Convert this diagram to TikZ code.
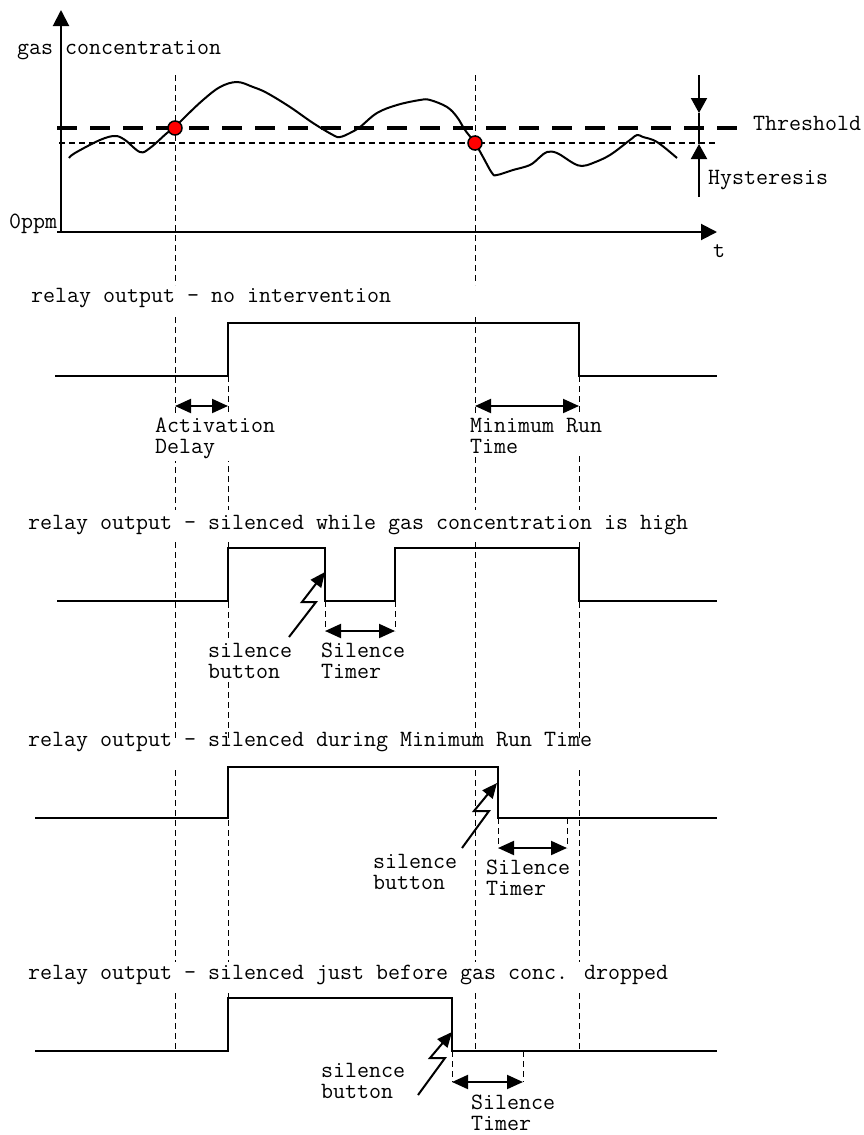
\documentclass[tikz,border=0pt]{standalone}
\usepackage{fontspec}
\usetikzlibrary{arrows.meta}

\begin{document}
\begin{tikzpicture}[x=1pt, y=-1pt,
    txt/.style={inner sep=0pt, font=\ttfamily\fontsize{23.3}{21}\selectfont},
    title/.style={txt, anchor=base west},
    note/.style={txt, anchor=base west, align=left, fill=white, inner ysep=3pt},
    signal/.style={line width=2pt},
    guide/.style={line width=1pt, dash pattern=on 6pt off 4pt},
    axis/.style={line width=2pt, -{Triangle[length=16pt, width=16pt]}},
    span/.style={line width=2pt, {Triangle[length=16pt, width=14pt]}-{Triangle[length=16pt, width=14pt]}},
    bolt/.style={line width=2pt, -{Triangle[length=15pt, width=13pt]}},
    hit/.style={circle, draw, line width=1.5pt, fill=red, minimum size=14pt, inner sep=0pt}
]
\useasboundingbox (0,0) rectangle (863,1135);

\foreach \x in {175,475} \draw[guide] (\x,75) -- (\x,285);
\foreach \x/\ya in {175/317,228/376,475/317,579/376} \draw[guide] (\x,\ya) -- (\x,510);
\foreach \x in {175,228,475,579} {
    \draw[guide] (\x,542) -- (\x,738);
    \draw[guide] (\x,770) -- (\x,962);
}
\foreach \x/\yb in {175/1051,228/998,475/1051,579/1051} \draw[guide] (\x,993) -- (\x,\yb);

\draw[axis] (61,232) -- (61,10);
\draw[axis] (57,232) -- (717,232);
\node[title] (ylab) at (17,54) {gas concentration};
\node[title] (zero) at (9,228) {0ppm};
\node[title] (tlab) at (713,257) {t};
\draw[line width=4pt, dash pattern=on 20pt off 13pt] (57,128) -- (748,128);
\node[title] (thr) at (753,130) {Threshold};
\draw[line width=1.5pt, dash pattern=on 6pt off 4pt] (59,143) -- (717,143);
\node[title] (hys) at (708,184) {Hysteresis};
\draw[line width=2pt, -{Triangle[length=15pt, width=16pt]}] (699,75) -- (699,113);
\draw[line width=2pt] (699,113) -- (699,144);
\draw[line width=2pt, -{Triangle[length=15pt, width=16pt]}] (699,197) -- (699,144);
\draw[line width=2pt] plot[smooth, tension=0.6] coordinates {
    (69,158) (75,153) (100,140) (115,136) (125,140) (140,152) (150,148)
    (167,133) (175,127) (187,115) (203,100) (220,87) (237,82) (253,87)
    (267,93) (290,107) (313,123) (333,135) (340,137) (350,133) (360,127)
    (377,113) (397,105) (420,100) (430,100) (447,107) (457,117) (465,130)
    (475,143) (483,157) (492,173) (497,175) (513,170) (530,165) (540,157)
    (547,152) (557,153) (573,163) (582,166) (593,163) (610,155) (630,140)
    (637,135) (643,137) (657,142) (677,158)};
\node[hit] (up) at (175,128) {};
\node[hit] (down) at (475,143) {};

\node[title] (title1) at (31,302) {relay output – no intervention};
\draw[signal] (55,376) -- (228,376) -- (228,323) -- (579,323) -- (579,376) -- (717,376);
\node[note] (delay) at (155,453) {Activation\\Delay};
\node[note] (minrun) at (470,453) {Minimum Run\\Time};
\draw[span] (175,406) -- (228,406);
\draw[span] (475,406) -- (579,406);

\node[title] (title2) at (28,529) {relay output – silenced while gas concentration is high};
\draw[signal] (57,601) -- (228,601) -- (228,548) -- (325,548) -- (325,601) -- (395,601) -- (395,548) -- (579,548) -- (579,601) -- (717,601);
\draw[guide] (325,601) -- (325,631);
\draw[guide] (395,601) -- (395,631);
\node[note] (button2) at (208,678) {silence\\button};
\node[note] (timer2) at (321,678) {Silence\\Timer};
\draw[span] (325,631) -- (395,631);
\draw[bolt] (289,637) -- (316,602) -- (302,602) -- (325,572);

\node[title] (title3) at (28,746) {relay output – silenced during Minimum Run Time};
\draw[signal] (35,818) -- (228,818) -- (228,767) -- (498,767) -- (498,818) -- (717,818);
\draw[guide] (498,818) -- (498,848);
\draw[guide] (567,818) -- (567,848);
\node[note] (button3) at (373,889) {silence\\button};
\node[note] (timer3) at (486,895) {Silence\\Timer};
\draw[span] (498,848) -- (567,848);
\draw[bolt] (462,848) -- (489,811) -- (474,811) -- (497,783);

\node[title] (title4) at (28,979) {relay output – silenced just before gas conc. dropped};
\draw[signal] (35,1051) -- (228,1051) -- (228,998) -- (452,998) -- (452,1051) -- (717,1051);
\draw[guide] (452,1051) -- (452,1082);
\draw[guide] (523,1051) -- (523,1082);
\node[note] (button4) at (321,1098) {silence\\button};
\node[note] (timer4) at (471,1130) {Silence\\Timer};
\draw[span] (452,1082) -- (523,1082);
\draw[bolt] (418,1095) -- (445,1058) -- (430,1058) -- (452,1032);
\end{tikzpicture}
\end{document}
